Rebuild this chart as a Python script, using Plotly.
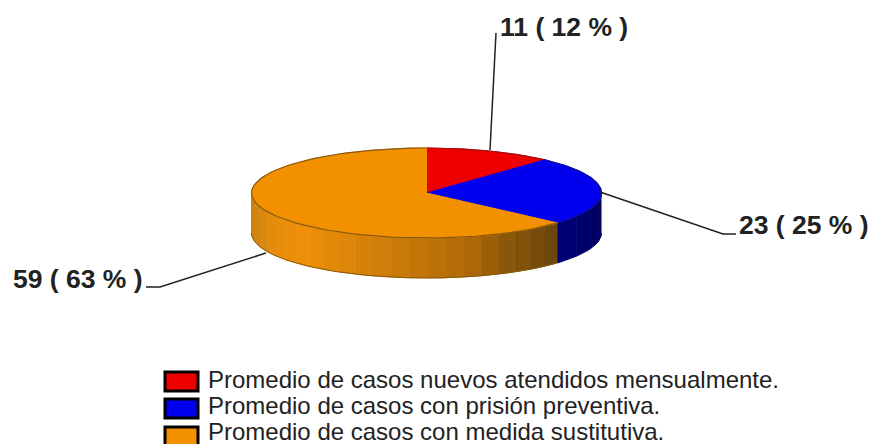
import numpy as np
import plotly.graph_objects as go

categories = ["Promedio de casos nuevos atendidos mensualmente.",
              "Promedio de casos con prisión preventiva.",
              "Promedio de casos con medida sustitutiva."]
values = [11, 23, 59]
percents = [12, 25, 63]
colors = ["#ee0000", "#0000ee", "#f39000"]
edge_colors = ["#a01010", "#101090", "#8a5a10"]
side_stops = {1: ([555, 602], [(0, 0, 125), (0, 0, 95)]),
              2: ([252, 268, 300, 345, 400, 470, 510, 555],
                  [(205, 130, 15), (225, 138, 15), (240, 144, 8), (222, 135, 10),
                   (200, 122, 8), (175, 105, 8), (135, 85, 10), (105, 70, 12)])}

# leader lines and label anchors, in pixels
leaders = [[(490, 150), (496, 33)],
           [(600, 192), (723, 234), (736, 234)],
           [(266, 253), (160, 287), (146, 287)]]
label_pos = [(498, 27, "left"), (737, 225, "left"), (145, 279, "right")]
legend_tops = [372, 399, 427]
legend_text_y = [379.5, 405.5, 431]

cx, cy, rx, ry, depth = 426.5, 193, 175, 45, 40
W, H = 873, 444

fracs = np.array(values) / sum(values)
ends = np.cumsum(fracs) * 2 * np.pi
starts = ends - fracs * 2 * np.pi


def px(t):
    return cx + rx * np.sin(t), cy - ry * np.cos(t)


def rgb(c):
    return "rgb(%d,%d,%d)" % tuple(int(round(v)) for v in c)


fig = go.Figure()


def poly(x, y, fill):
    fig.add_trace(go.Scatter(x=x, y=y, mode="lines", fill="toself", fillcolor=fill,
                             line=dict(color=fill, width=1),
                             hoverinfo="skip", showlegend=False))


# side wall, banded
for i in side_stops:
    xs, cs = side_stops[i]
    a, b = max(starts[i], np.pi / 2), min(ends[i], 3 * np.pi / 2)
    edges = np.linspace(a, b, 24 if i == 2 else 5)
    for t0, t1 in zip(edges[:-1], edges[1:]):
        t = np.linspace(t0, t1, 6)
        x, y = px(t)
        mid = (x[0] + x[-1]) / 2
        c = [np.interp(mid, xs, [k[j] for k in cs]) for j in range(3)]
        poly(np.r_[x, x[::-1]], np.r_[y, y[::-1] + depth], rgb(c))

# outline of the wall
t = np.linspace(np.pi / 2, 3 * np.pi / 2, 120)
x, y = px(t)
fig.add_trace(go.Scatter(x=x[t >= starts[2]], y=y[t >= starts[2]] + depth, mode="lines",
                         line=dict(color="#8a5a10", width=1), hoverinfo="skip", showlegend=False))

# top face
for i in range(3):
    t = np.linspace(starts[i], ends[i], 100)
    x, y = px(t)
    poly(np.r_[cx, x, cx], np.r_[cy, y, cy], colors[i])
    fig.add_trace(go.Scatter(x=x, y=y, mode="lines", line=dict(color=edge_colors[i], width=1.2),
                             hoverinfo="skip", showlegend=False))

shapes = []
annotations = []
label_font = dict(family="Liberation Sans, Arial", size=26.5, color="#222222")
for i in range(3):
    xs, ys = zip(*leaders[i])
    fig.add_trace(go.Scatter(x=xs, y=ys, mode="lines", line=dict(color="#222222", width=1.5),
                             hoverinfo="skip", showlegend=False))
    lx, ly, anchor = label_pos[i]
    annotations.append(dict(x=lx, y=ly, xref="x", yref="y", xanchor=anchor, yanchor="middle",
                            text="<b>%d ( %d %% )</b>" % (values[i], percents[i]),
                            showarrow=False, font=label_font))

# legend
for i, cat in enumerate(categories):
    top = legend_tops[i]
    shapes.append(dict(type="rect", x0=165, x1=198, y0=top, y1=top + 19, xref="x", yref="y",
                       fillcolor=colors[i], line=dict(color="#000000", width=3)))
    annotations.append(dict(x=206, y=legend_text_y[i], xref="x", yref="y", xanchor="left", yanchor="middle",
                            text=cat, showarrow=False,
                            font=dict(family="Liberation Sans, Arial", size=24, color="#222222")))

fig.update_layout(width=W, height=H, autosize=False, margin=dict(l=0, r=0, t=0, b=0),
                  paper_bgcolor="white", plot_bgcolor="white", showlegend=False,
                  xaxis=dict(range=[0, W], visible=False, fixedrange=True),
                  yaxis=dict(range=[H, 0], visible=False, fixedrange=True),
                  shapes=shapes, annotations=annotations)
fig.write_html("out.html", config=dict(displayModeBar=False),
               post_script="document.body.style.margin='0';document.body.style.overflow='hidden';")
